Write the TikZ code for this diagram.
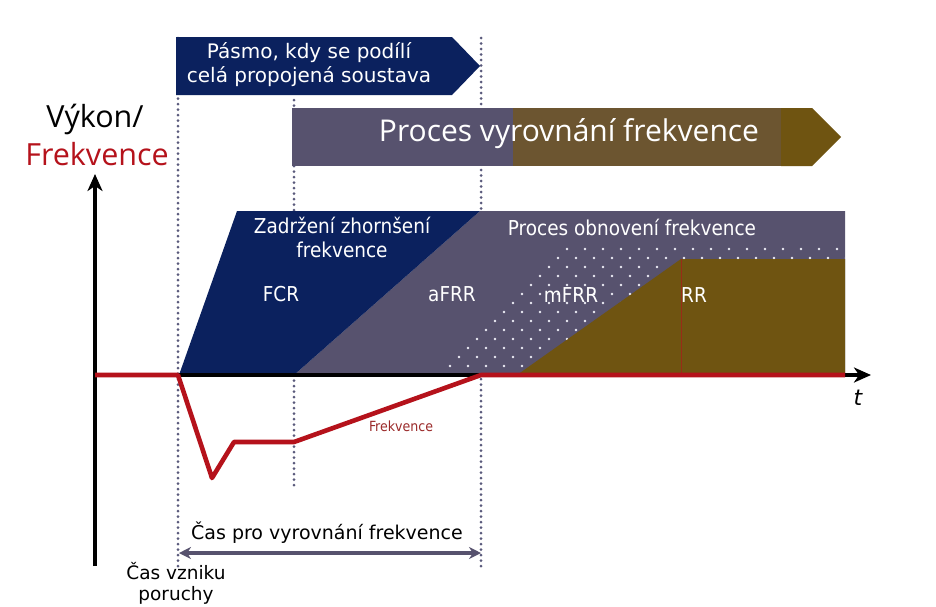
\documentclass[tikz,border=0pt]{standalone}
\usepackage{fontspec}
\setmainfont{DejaVu Sans}
\newfontfamily\condfont{DejaVu Sans Condensed}
\newfontfamily\openfont{Open Sans}
\usetikzlibrary{arrows.meta}

\definecolor{navy}{HTML}{0B215E}
\definecolor{slate}{HTML}{57526E}
\definecolor{bronze}{HTML}{6C5530}
\definecolor{olive}{HTML}{6F5411}
\definecolor{freqred}{HTML}{B5121B}
\definecolor{guide}{HTML}{5A5A7C}
\definecolor{labelred}{HTML}{9B2A2A}
\definecolor{dotwhite}{HTML}{EEEEF6}

\tikzset{
  guideline/.style={guide, line width=3pt, dash pattern=on 0pt off 5.5pt, line cap=round},
  axisline/.style={black, line width=3.2pt},
  freqline/.style={freqred, line width=4.6pt, line join=round},
  whitetext/.style={white, inner sep=0pt, align=center},
  regionlabel/.style={whitetext, font=\condfont\fontsize{20.5}{24}\selectfont},
}

\begin{document}
\begin{tikzpicture}[x=1pt,y=-1pt]
\useasboundingbox[fill=white] (0,0) rectangle (936,606);

% vertical guide lines
\draw[guideline] (178,38) -- (178,566);
\draw[guideline] (294,100) -- (294,490);
\draw[guideline] (481,38) -- (481,566);

% band shared by the whole interconnected system
\fill[navy] (176,37) -- (452,37) -- (480,66) -- (452,95) -- (176,95) -- cycle;
\node[whitetext, font=\fontsize{20}{24}\selectfont] (band) at (309,65)
  {Pásmo, kdy se podílí\\celá propojená soustava};

% frequency balancing process bar
\fill[slate] (292,108) rectangle (513,166);
\fill[bronze] (513,108) rectangle (781,166);
\fill[olive] (781,108) -- (812,108) -- (841,137) -- (812,166) -- (781,166) -- cycle;
\node[whitetext, font=\openfont\fontsize{30}{34}\selectfont] (balance) at (569,134)
  {Proces vyrovnání frekvence};

% reserve regions
\fill[slate] (480,211) -- (845,211) -- (845,375) -- (294,375) -- cycle;
\fill[navy] (179,375) -- (237,211) -- (480,211) -- (294,375) -- cycle;
\fill[olive] (517,375) -- (681,259) -- (845,259) -- (845,375) -- cycle;
\draw[freqred!60!olive, line width=0.6pt] (681.5,259) -- (681.5,375);

% dotted mFRR area
\begin{scope}
  \clip (426,374) -- (572,243) -- (845,243) -- (845,259) -- (681,259) -- (517,375) -- cycle;
  \foreach \r in {0,...,13} {
    \foreach \c in {0,...,24} {
      \fill[dotwhite] ({9*mod(\r+1,2)+18*\c+414}, {249+9*\r}) circle (1.3);
    }
  }
\end{scope}

% region labels
\node[whitetext, font=\condfont\fontsize{20.5}{24}\selectfont] (fcrhead) at (342,237)
  {Zadržení zhornšení\\frekvence};
\node[whitetext, font=\condfont\fontsize{20.5}{24}\selectfont] (frrhead) at (632,227)
  {Proces obnovení frekvence};
\node[regionlabel] (fcr) at (281,294) {FCR};
\node[regionlabel] (afrr) at (452,294) {aFRR};
\node[regionlabel] (mfrr) at (571,295) {mFRR};
\node[regionlabel] (rr) at (694,295) {RR};

% axes
\coordinate (origin) at (95,375);
\coordinate (ytop) at (95,174);
\coordinate (ybottom) at (95,566);
\coordinate (xend) at (871,375);
\draw[axisline, -{Stealth[length=17pt,width=15pt,inset=5pt]}] (ybottom) -- (ytop);
\draw[axisline, -{Stealth[length=17pt,width=15pt,inset=5pt]}] (origin) -- (xend);
\node[font=\itshape\fontsize{22}{24}\selectfont] (tlabel) at (858,398) {t};

% frequency curve
\coordinate (f0) at (178,375);
\coordinate (f1) at (212,478);
\coordinate (f2) at (234,442);
\coordinate (f3) at (294,442);
\coordinate (f4) at (481,375);
\coordinate (f5) at (845,375);
\draw[freqline] (origin) -- (f0) -- (f1) -- (f2) -- (f3) -- (f4) -- (f5);
\node[labelred, font=\condfont\fontsize{14}{16}\selectfont] (freqlabel) at (401,426) {Frekvence};

% axis title
\node[font=\openfont\fontsize{30.5}{34}\selectfont, inner sep=0pt] (power) at (95,119) {Výkon/};
\node[freqred, font=\openfont\fontsize{30.5}{34}\selectfont, inner sep=0pt] (freq) at (97,154) {Frekvence};

% time span for balancing
\coordinate (span0) at (179,553);
\coordinate (span1) at (481,553);
\draw[slate, line width=3.6pt, {Stealth[length=12pt,width=12pt]}-{Stealth[length=12pt,width=12pt]}] (span0) -- (span1);
\node[font=\fontsize{19}{22}\selectfont, inner sep=0pt] (spanlabel) at (327,533) {Čas pro vyrovnání frekvence};
\node[font=\fontsize{18.5}{21}\selectfont, inner sep=0pt, align=center] (fault) at (176,583) {Čas vzniku\\poruchy};
\end{tikzpicture}
\end{document}
